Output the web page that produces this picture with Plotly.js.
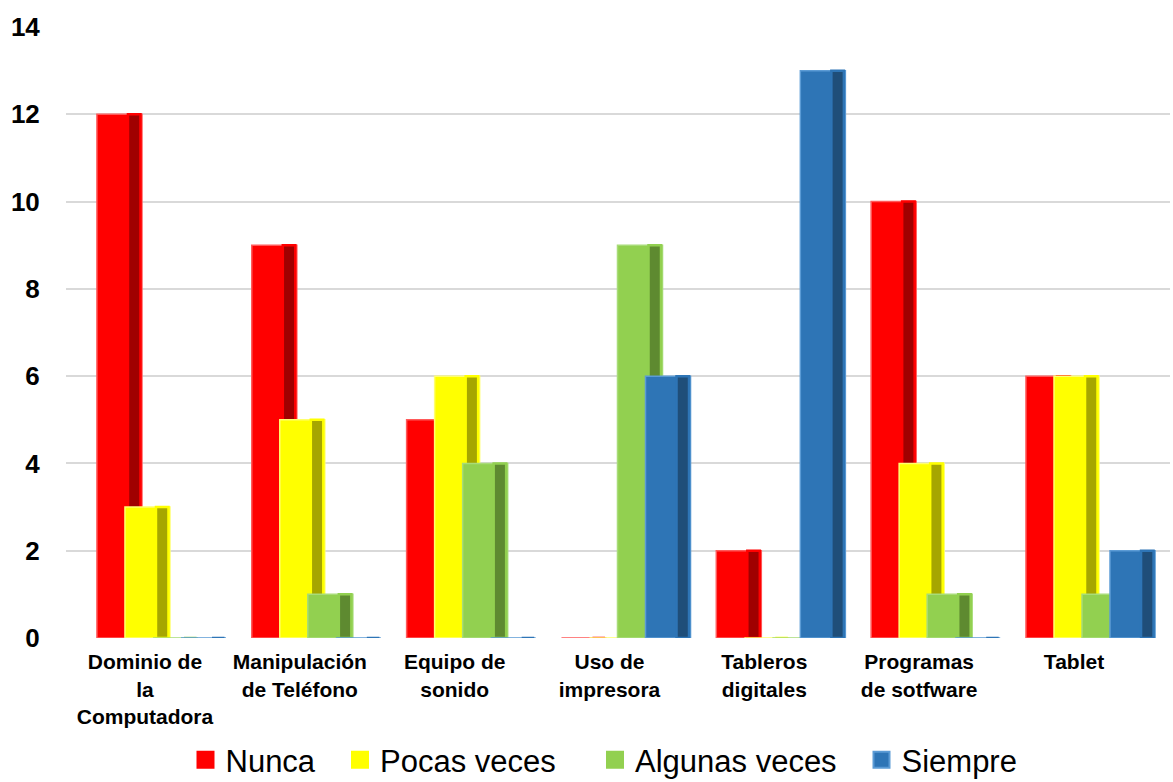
<!DOCTYPE html>
<html>
<head>
<meta charset="utf-8">
<script src="https://cdn.plot.ly/plotly-3.0.1.min.js"></script>
<style>
html,body{margin:0;padding:0;background:#fff;}
#chart{width:1173px;height:782px;}
</style>
</head>
<body>
<div id="chart"></div>
<script>
const categories = ["Dominio de la Computadora","Manipulación de Teléfono","Equipo de sonido","Uso de impresora","Tableros digitales","Programas de sotfware","Tablet"];
const tickLabels = ["Dominio de<br>la<br>Computadora","Manipulación<br>de Teléfono","Equipo de<br>sonido","Uso de<br>impresora","Tableros<br>digitales","Programas<br>de sotfware","Tablet"];
const seriesNames = ["Nunca","Pocas veces","Algunas veces","Siempre"];
const nunca = [12, 9, 5, 0, 2, 10, 6];
const pocasVeces = [3, 5, 6, 0, 0, 4, 6];
const algunasVeces = [0, 1, 4, 9, 0, 1, 1];
const siempre = [0, 0, 0, 6, 13, 0, 2];
const seriesValues = [nunca, pocasVeces, algunasVeces, siempre];

const frontColors = ["#FF0000","#FFFF00","#92D050","#2E75B6"];
const sideColors  = ["#A00000","#A6A600","#5E8A30","#1F4E79"];
const edgeColors  = ["#FF5A5A","#FFFF70","#A8DC78","#5B9BD5"];

const catPx = 154.75;           // pixel width of one category
const px = v => v / catPx;       // pixels -> category units

const traces = [];
seriesValues.forEach((vals, i) => {
  const left = -48 + 28 * i;
  traces.push({
    type: "bar", x: categories, y: vals, name: seriesNames[i],
    offset: px(left), width: px(45),
    marker: {color: frontColors[i], line: {color: edgeColors[i], width: 1.5}},
    showlegend: false, hoverinfo: "y"
  });
  traces.push({
    type: "bar", x: categories, y: vals, name: seriesNames[i],
    offset: px(left + 31), width: px(12.5),
    marker: {color: sideColors[i], line: {color: frontColors[i], width: 2.5}},
    showlegend: false, hoverinfo: "skip"
  });
});
const legendIds = ["legend","legend2","legend3","legend4"];
seriesNames.forEach((n, i) => {
  traces.push({
    type: "scatter", mode: "markers", x: [null], y: [null], name: n,
    legend: legendIds[i],
    marker: {symbol: "square", size: 16, color: frontColors[i], line: {color: i === 3 ? edgeColors[i] : frontColors[i], width: 2}},
    showlegend: true, hoverinfo: "skip"
  });
});

// legend square centres (px) -> paper x
const legendCenters = [205.5, 360, 615, 881.5];
const legFont = {size: 31, family: "Liberation Sans Narrow, Liberation Sans, Arial, sans-serif", color: "#000"};
function legendAt(cx) {
  return {
    orientation: "h", x: (cx - 20 - 66) / 1104, xanchor: "left",
    y: -0.2, yanchor: "middle", font: legFont, itemwidth: 30,
    bgcolor: "rgba(0,0,0,0)"
  };
}

const layout = {
  width: 1173, height: 782,
  margin: {l: 66, r: 3, t: 27, b: 144, autoexpand: false},
  paper_bgcolor: "#fff", plot_bgcolor: "#fff",
  barmode: "overlay",
  font: {family: "Liberation Sans, Arial, sans-serif", color: "#000"},
  xaxis: {
    type: "category",
    range: [-0.51, 6.62],
    tickvals: categories, ticktext: tickLabels,
    tickfont: {size: 21, family: "Liberation Sans, Arial, sans-serif", weight: "bold"},
    showgrid: false, zeroline: false, showline: false,
    ticks: "outside", ticklen: 5, tickcolor: "rgba(0,0,0,0)"
  },
  yaxis: {
    range: [0, 14], dtick: 2, tick0: 0,
    tickfont: {size: 26, family: "Liberation Sans, Arial, sans-serif", weight: "bold"},
    showgrid: true, gridcolor: "#D9D9D9", gridwidth: 2,
    zeroline: false, showline: false,
    ticks: "outside", ticklen: 20, tickcolor: "rgba(0,0,0,0)"
  },
  legend: legendAt(legendCenters[0]),
  legend2: legendAt(legendCenters[1]),
  legend3: legendAt(legendCenters[2]),
  legend4: legendAt(legendCenters[3]),
  showlegend: true
};

Plotly.newPlot("chart", traces, layout, {displayModeBar: false, staticPlot: true});
</script>
</body>
</html>
